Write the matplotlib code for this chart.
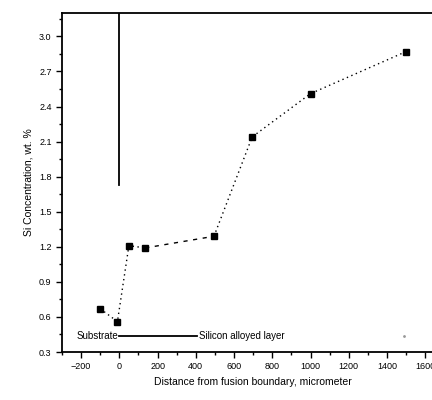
import numpy as np
import matplotlib.pyplot as plt
from matplotlib.ticker import MultipleLocator

plt.rcParams['font.family'] = ['Liberation Sans', 'DejaVu Sans']

# distance from fusion boundary (micrometer) and Si content (wt. %)
distance = [-100, -10, 50, 135, 495, 695, 1000, 1500]
si_conc = [0.67, 0.56, 1.21, 1.19, 1.29, 2.14, 2.51, 2.87]

x_ticks = [-200, 0, 200, 400, 600, 800, 1000, 1200, 1400, 1600]
y_ticks = [0.3, 0.6, 0.9, 1.2, 1.5, 1.8, 2.1, 2.4, 2.7, 3.0]

fig = plt.figure(figsize=(4.32, 4.0), dpi=100)
ax = fig.add_axes([0.1435, 0.12, 0.885, 0.8475])

# ligne pointillee, segment 4-5 en tirets
ax.plot(distance[:4], si_conc[:4], color='black', lw=1.0, linestyle=(0, (1, 2.5)))
ax.plot(distance[3:5], si_conc[3:5], color='black', lw=1.0, linestyle=(0, (3, 4)))
ax.plot(distance[4:], si_conc[4:], color='black', lw=1.0, linestyle=(0, (1, 2.5)))
ax.plot(distance, si_conc, linestyle='none', marker='s', ms=4.5, color='black')

# frontiere de fusion
ax.plot([0, 0], [1.73, 3.2], color='black', lw=1.3)
ax.plot([0, 405], [0.435, 0.435], color='black', lw=1.3)
ax.text(-5, 0.435, 'Substrate', ha='right', va='center', fontsize=7)
ax.text(415, 0.435, 'Silicon alloyed layer', ha='left', va='center', fontsize=7)
ax.plot([1490], [0.44], marker='.', ms=2, color='0.6')

ax.set_xlim(-300, 1700)
ax.set_ylim(0.3, 3.2)
ax.set_xticks(x_ticks)
ax.set_yticks(y_ticks)
ax.xaxis.set_minor_locator(MultipleLocator(100))
ax.yaxis.set_minor_locator(MultipleLocator(0.15))
ax.tick_params(which='major', direction='out', length=4, width=1, labelsize=6.5)
ax.tick_params(which='minor', direction='out', length=2, width=1)
ax.spines['right'].set_visible(False)
for s in ['left', 'top', 'bottom']:
    ax.spines[s].set_linewidth(1.3)

ax.set_xlabel('Distance from fusion boundary, micrometer', fontsize=7.5)
ax.set_ylabel('Si Concentration, wt. %', fontsize=7.5)

fig.savefig('out.png', dpi=100)
